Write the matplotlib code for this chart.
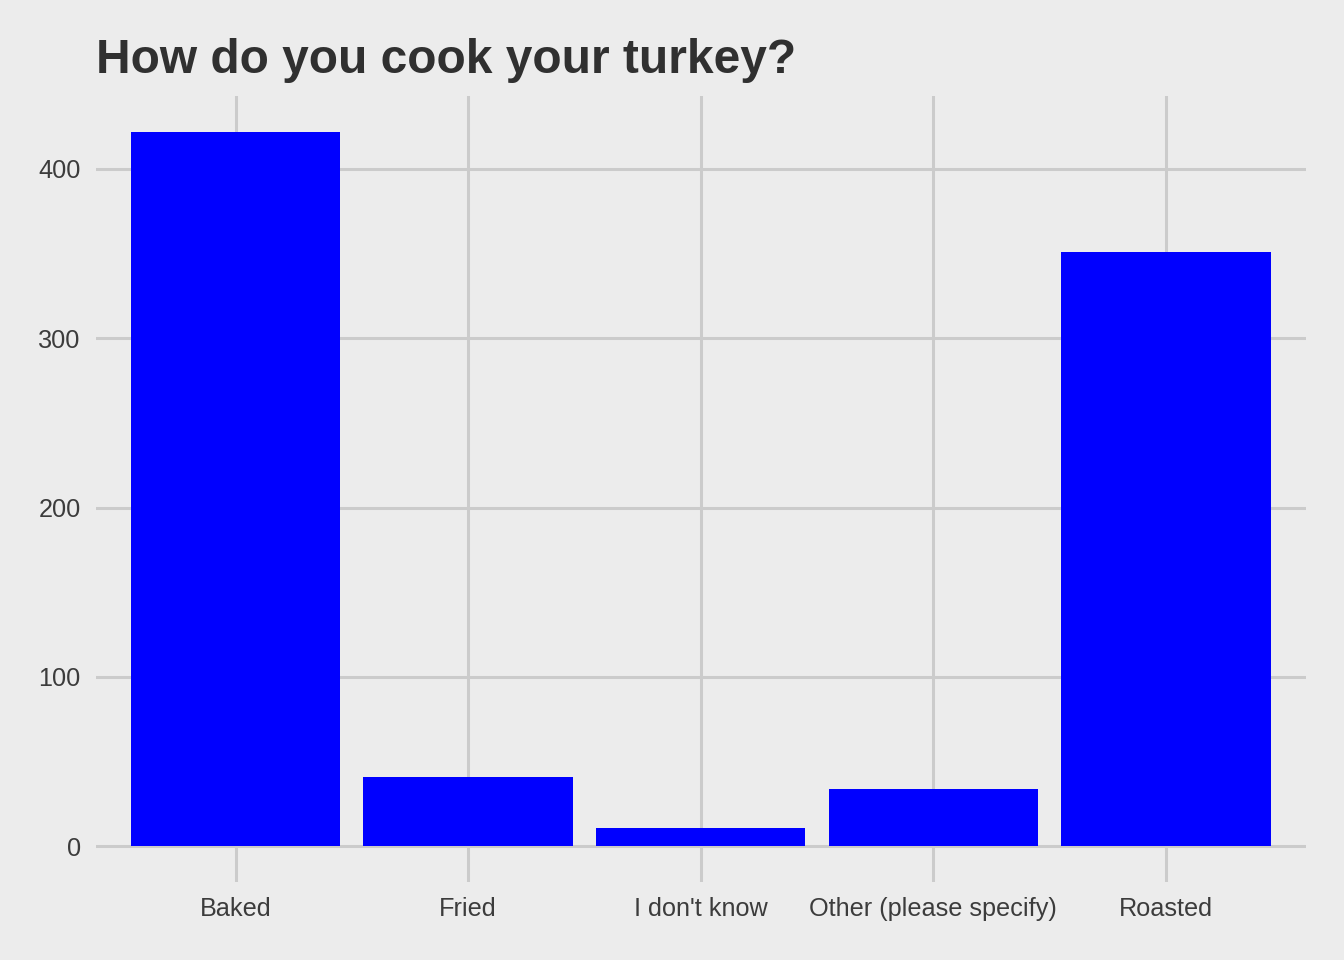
import matplotlib
matplotlib.use("Agg")
import matplotlib.pyplot as plt

categories = ["Baked", "Fried", "I don't know", "Other (please specify)", "Roasted"]
counts = [422, 41, 11, 34, 351]
yticks = [0, 100, 200, 300, 400]

plt.rcParams['font.family'] = ['Liberation Sans', 'DejaVu Sans']

bg = "#ECECEC"
grid = "#CBCBCB"
txt = "#3C3C3C"

fig = plt.figure(figsize=(13.44, 9.6), dpi=100, facecolor=bg)
ax = fig.add_axes([96/1344, 1-882/960, (1305.5-96)/1344, (882-96)/960])
ax.set_facecolor(bg)

x = list(range(len(categories)))
ax.bar(x, counts, width=0.9, color="#0000FF", zorder=3)

ax.set_xlim(-0.6, len(categories) - 0.4)
ymax = max(counts)
ax.set_ylim(-0.05 * ymax, 1.05 * ymax)
ax.set_xticks(x)
ax.set_xticklabels(categories)
ax.set_yticks(yticks)
ax.grid(True, color=grid, linewidth=2.2, zorder=0)
ax.set_axisbelow(True)
for s in ax.spines.values():
    s.set_visible(False)
ax.tick_params(axis='both', length=0, labelsize=18.2, labelcolor=txt)
ax.tick_params(axis='x', pad=10.5)
ax.tick_params(axis='y', pad=11)

fig.text(96/1344, 1-73/960, "How do you cook your turkey?", fontsize=34.5,
         fontweight='bold', color="#303030", ha='left', va='baseline')

fig.savefig("out.png", dpi=100, facecolor=bg)
